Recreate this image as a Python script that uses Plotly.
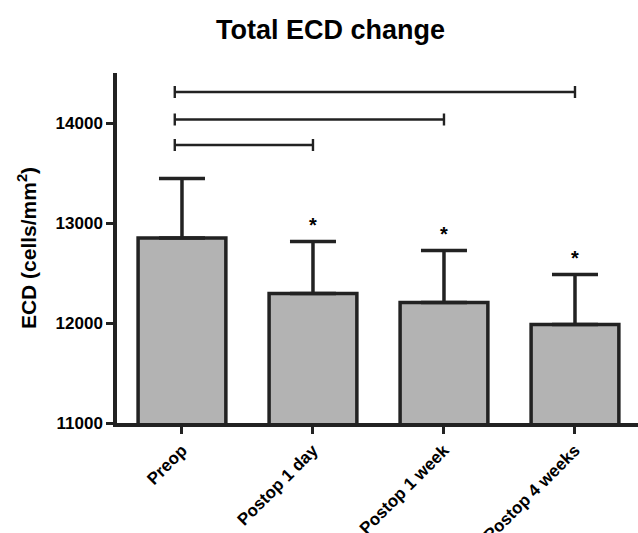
import plotly.graph_objects as go

categories = ["Preop", "Postop 1 day", "Postop 1 week", "Postop 4 weeks"]
means = [12850, 12295, 12205, 11985]
sd_plus = [595, 520, 520, 500]
significant = [False, True, True, True]
# significance brackets: (from index, to index, height)
bracket_from = [0, 0, 0]
bracket_to = [1, 2, 3]
bracket_y = [13780, 14035, 14310]

LINE = "#222222"
FONT = "Arial, Liberation Sans, sans-serif"

x_idx = list(range(len(categories)))

fig = go.Figure()
fig.add_trace(go.Bar(
    x=x_idx, y=means, width=0.67,
    marker=dict(color="#b3b3b3", line=dict(color=LINE, width=3.5)),
    error_y=dict(type="data", symmetric=False, array=sd_plus,
                 arrayminus=[0]*len(means), color=LINE, thickness=3.5, width=23),
    hoverinfo="skip",
))

annotations = []
for i, (m, s, sig) in enumerate(zip(means, sd_plus, significant)):
    if sig:
        annotations.append(dict(x=i, y=m + s, text="<b>*</b>", showarrow=False,
                                yshift=17, font=dict(size=20, color="black", family=FONT)))

shapes = []
for a, b, h in zip(bracket_from, bracket_to, bracket_y):
    xa = a - 0.055
    shapes.append(dict(type="line", xref="x", yref="y", x0=xa, x1=b, y0=h, y1=h,
                       line=dict(color=LINE, width=2.4)))
    for xx in (xa, b):
        shapes.append(dict(type="line", xref="x", yref="y", x0=xx, x1=xx,
                           y0=h - 60, y1=h + 60, line=dict(color=LINE, width=2.4)))

fig.update_layout(
    width=638, height=533,
    margin=dict(l=117, r=0, t=73, b=110),
    paper_bgcolor="white", plot_bgcolor="white",
    showlegend=False,
    bargap=0.33,
    title=dict(text="<b>Total ECD change</b>", x=0.518, xanchor="center",
               y=0.944, yanchor="middle",
               font=dict(family=FONT, size=27, color="black")),
    xaxis=dict(range=[-0.496, 3.481], tickmode="array", tickvals=x_idx,
               ticktext=[f"<b>{c}</b>" for c in categories], tickangle=-45,
               showline=True, linecolor=LINE, linewidth=3.5,
               ticks="outside", ticklen=7, tickwidth=3, tickcolor=LINE,
               showgrid=False, zeroline=False, automargin=False,
               tickfont=dict(family=FONT, size=17, color="black")),
    yaxis=dict(range=[11000, 14500], tickvals=[11000, 12000, 13000, 14000],
               ticktext=["<b>11000</b>", "<b>12000</b>", "<b>13000</b>", "<b>14000</b>"],
               showline=True, linecolor=LINE, linewidth=3.5,
               ticks="outside", ticklen=7, tickwidth=3, tickcolor=LINE,
               showgrid=False, zeroline=False, automargin=False,
               tickfont=dict(family=FONT, size=17, color="black"),
               title=dict(text="<b>ECD (cells/mm<sup>2</sup>)</b>", standoff=14,
                          font=dict(family=FONT, size=21, color="black"))),
    annotations=annotations,
    shapes=shapes,
)

fig.write_html("out.html")
